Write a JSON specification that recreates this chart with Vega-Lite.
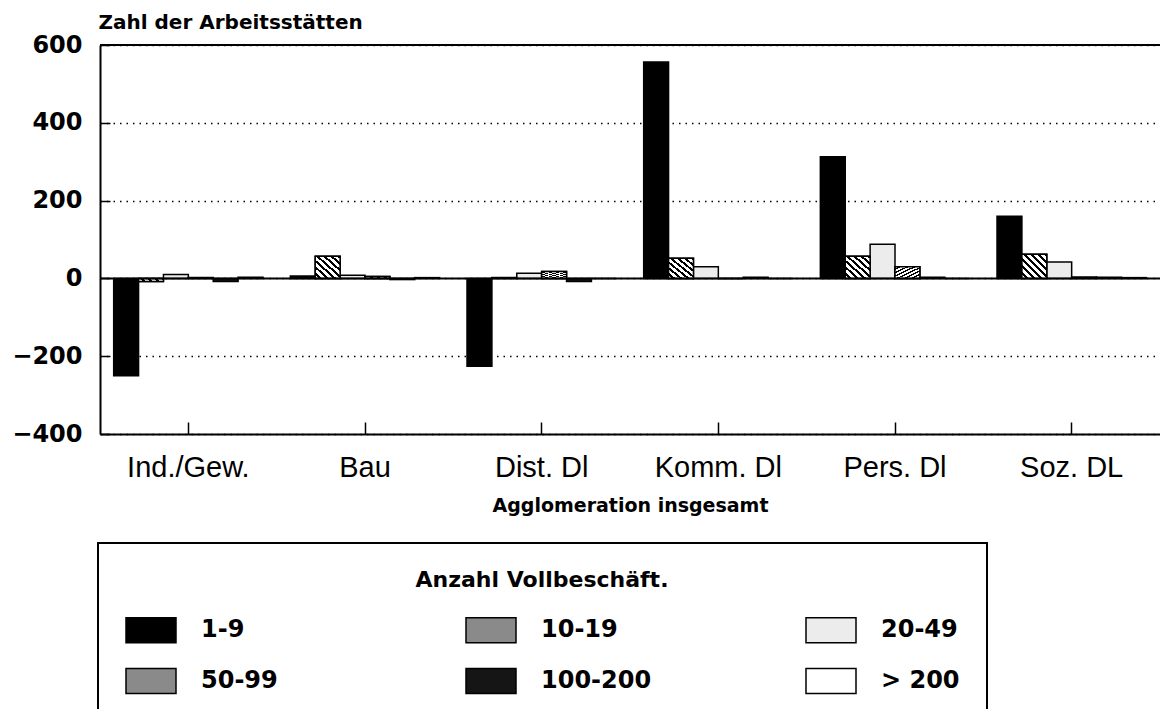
{
  "$schema": "https://vega.github.io/schema/vega-lite/v6.json",
  "width": 1060,
  "height": 389,
  "autosize": "none",
  "padding": {"left": 100, "top": 45, "right": 0, "bottom": 275},
  "background": "white",
  "config": {
    "font": "DejaVu Sans",
    "view": {"stroke": null},
    "legend": {"strokeWidth": 2}
  },
  "data": {
    "values": [
      {"sector": "Ind./Gew.", "size": "1-9", "value": -250},
      {"sector": "Ind./Gew.", "size": "10-19", "value": -8},
      {"sector": "Ind./Gew.", "size": "20-49", "value": 10},
      {"sector": "Ind./Gew.", "size": "50-99", "value": 2},
      {"sector": "Ind./Gew.", "size": "100-200", "value": -8},
      {"sector": "Ind./Gew.", "size": "> 200", "value": 3},
      {"sector": "Bau", "size": "1-9", "value": 6},
      {"sector": "Bau", "size": "10-19", "value": 57},
      {"sector": "Bau", "size": "20-49", "value": 8},
      {"sector": "Bau", "size": "50-99", "value": 5},
      {"sector": "Bau", "size": "100-200", "value": -3},
      {"sector": "Bau", "size": "> 200", "value": 2},
      {"sector": "Dist. Dl", "size": "1-9", "value": -226},
      {"sector": "Dist. Dl", "size": "10-19", "value": 2},
      {"sector": "Dist. Dl", "size": "20-49", "value": 13},
      {"sector": "Dist. Dl", "size": "50-99", "value": 18},
      {"sector": "Dist. Dl", "size": "100-200", "value": -8},
      {"sector": "Dist. Dl", "size": "> 200", "value": 0},
      {"sector": "Komm. Dl", "size": "1-9", "value": 556},
      {"sector": "Komm. Dl", "size": "10-19", "value": 52},
      {"sector": "Komm. Dl", "size": "20-49", "value": 30},
      {"sector": "Komm. Dl", "size": "50-99", "value": 0},
      {"sector": "Komm. Dl", "size": "100-200", "value": 3},
      {"sector": "Komm. Dl", "size": "> 200", "value": 0},
      {"sector": "Pers. Dl", "size": "1-9", "value": 313},
      {"sector": "Pers. Dl", "size": "10-19", "value": 57},
      {"sector": "Pers. Dl", "size": "20-49", "value": 88},
      {"sector": "Pers. Dl", "size": "50-99", "value": 30},
      {"sector": "Pers. Dl", "size": "100-200", "value": 3},
      {"sector": "Pers. Dl", "size": "> 200", "value": 0},
      {"sector": "Soz. DL", "size": "1-9", "value": 160},
      {"sector": "Soz. DL", "size": "10-19", "value": 62},
      {"sector": "Soz. DL", "size": "20-49", "value": 42},
      {"sector": "Soz. DL", "size": "50-99", "value": 3},
      {"sector": "Soz. DL", "size": "100-200", "value": 3},
      {"sector": "Soz. DL", "size": "> 200", "value": 2}
    ]
  },
  "encoding": {
    "x": {
      "field": "sector",
      "type": "nominal",
      "sort": ["Ind./Gew.", "Bau", "Dist. Dl", "Komm. Dl", "Pers. Dl", "Soz. DL"],
      "scale": {"paddingInner": 0, "paddingOuter": 0},
      "axis": {
        "orient": "bottom",
        "labelAngle": 0,
        "labelFont": "Liberation Sans",
        "labelFontSize": 29,
        "labelColor": "black",
        "labelPadding": 31,
        "tickSize": -12,
        "tickColor": "black",
        "tickWidth": 1.5,
        "domainColor": "black",
        "domainWidth": 2,
        "title": "Agglomeration insgesamt",
        "titleFont": "DejaVu Sans",
        "titleFontWeight": "bold",
        "titleFontSize": 19,
        "titleColor": "black",
        "titlePadding": 14
      }
    },
    "xOffset": {
      "field": "size",
      "type": "nominal",
      "scale": {"domain": ["1-9", "10-19", "20-49", "50-99", "100-200", "> 200"], "paddingInner": 0, "paddingOuter": 0.55}
    },
    "y": {
      "field": "value",
      "type": "quantitative",
      "scale": {"domain": [-400, 600], "nice": false, "zero": false},
      "axis": {
        "values": [-400, -200, 0, 200, 400, 600],
        "grid": true,
        "gridDash": [1.5, 5],
        "gridColor": "black",
        "gridWidth": 1.5,
        "gridOpacity": 1,
        "domainColor": "black",
        "domainWidth": 2,
        "tickColor": "black",
        "tickWidth": 1.5,
        "tickSize": -10,
        "labelPadding": 28,
        "labelFont": "DejaVu Sans",
        "labelFontWeight": "bold",
        "labelFontSize": 24,
        "labelColor": "black",
        "title": "Zahl der Arbeitsstätten",
        "titleAngle": 0,
        "titleAlign": "left",
        "titleBaseline": "alphabetic",
        "titleX": -2,
        "titleY": -17,
        "titleFont": "DejaVu Sans",
        "titleFontWeight": "bold",
        "titleFontSize": 20,
        "titleColor": "black"
      }
    }
  },
  "layer": [
    {
      "mark": {"type": "bar", "stroke": "black", "strokeWidth": 1.5},
      "encoding": {
        "fill": {
          "field": "size",
          "type": "nominal",
          "scale": {
            "domain": ["1-9", "50-99", "10-19", "100-200", "20-49", "> 200"],
            "range": ["black", "#8a8a8a", "#8a8a8a", "#151515", "#ececec", "white"]
          },
          "legend": {
            "orient": "none",
            "legendX": -2,
            "legendY": 498,
            "title": "Anzahl Vollbeschäft.",
            "titleFont": "DejaVu Sans",
            "titleFontWeight": "bold",
            "titleFontSize": 22,
            "titleColor": "black",
            "titleAnchor": "middle",
            "titleLimit": 600,
            "titlePadding": 12,
            "columns": 3,
            "gridAlign": "all",
            "columnPadding": 151,
            "rowPadding": 9,
            "symbolType": "M-1,-0.5H1V0.5H-1Z",
            "symbolSize": 2500,
            "symbolStrokeColor": "black",
            "symbolStrokeWidth": 1.5,
            "symbolOpacity": 1,
            "labelFont": "DejaVu Sans",
            "labelFontWeight": "bold",
            "labelFontSize": 24,
            "labelColor": "black",
            "labelOffset": 24,
            "labelLimit": 600,
            "padding": 27,
            "strokeColor": "black",
            "fillColor": "white"
          }
        }
      }
    },
    {
      "transform": [{"filter": "datum.size === '10-19'"}],
      "mark": {
        "type": "bar", "stroke": "black", "strokeWidth": 1.5,
        "fill": {"gradient": "linear", "x1": 0, "y1": 1, "x2": 1, "y2": 0, "stops": [
          {"offset": 0, "color": "white"}, {"offset": 0.081, "color": "white"}, {"offset": 0.081, "color": "black"}, {"offset": 0.1429, "color": "black"},
          {"offset": 0.1429, "color": "white"}, {"offset": 0.2239, "color": "white"}, {"offset": 0.2239, "color": "black"}, {"offset": 0.2857, "color": "black"},
          {"offset": 0.2857, "color": "white"}, {"offset": 0.3667, "color": "white"}, {"offset": 0.3667, "color": "black"}, {"offset": 0.4286, "color": "black"},
          {"offset": 0.4286, "color": "white"}, {"offset": 0.5096, "color": "white"}, {"offset": 0.5096, "color": "black"}, {"offset": 0.5714, "color": "black"},
          {"offset": 0.5714, "color": "white"}, {"offset": 0.6524, "color": "white"}, {"offset": 0.6524, "color": "black"}, {"offset": 0.7143, "color": "black"},
          {"offset": 0.7143, "color": "white"}, {"offset": 0.7953, "color": "white"}, {"offset": 0.7953, "color": "black"}, {"offset": 0.8571, "color": "black"},
          {"offset": 0.8571, "color": "white"}, {"offset": 0.9381, "color": "white"}, {"offset": 0.9381, "color": "black"}, {"offset": 1, "color": "black"}
        ]}
      }
    },
    {
      "transform": [{"filter": "datum.size === '50-99'"}],
      "mark": {
        "type": "bar", "stroke": "black", "strokeWidth": 1.5,
        "fill": {"gradient": "linear", "x1": 0, "y1": 0, "x2": 1, "y2": 1, "stops": [
          {"offset": 0, "color": "white"}, {"offset": 0.081, "color": "white"}, {"offset": 0.081, "color": "black"}, {"offset": 0.1429, "color": "black"},
          {"offset": 0.1429, "color": "white"}, {"offset": 0.2239, "color": "white"}, {"offset": 0.2239, "color": "black"}, {"offset": 0.2857, "color": "black"},
          {"offset": 0.2857, "color": "white"}, {"offset": 0.3667, "color": "white"}, {"offset": 0.3667, "color": "black"}, {"offset": 0.4286, "color": "black"},
          {"offset": 0.4286, "color": "white"}, {"offset": 0.5096, "color": "white"}, {"offset": 0.5096, "color": "black"}, {"offset": 0.5714, "color": "black"},
          {"offset": 0.5714, "color": "white"}, {"offset": 0.6524, "color": "white"}, {"offset": 0.6524, "color": "black"}, {"offset": 0.7143, "color": "black"},
          {"offset": 0.7143, "color": "white"}, {"offset": 0.7953, "color": "white"}, {"offset": 0.7953, "color": "black"}, {"offset": 0.8571, "color": "black"},
          {"offset": 0.8571, "color": "white"}, {"offset": 0.9381, "color": "white"}, {"offset": 0.9381, "color": "black"}, {"offset": 1, "color": "black"}
        ]}
      }
    },
    {
      "data": {"values": [{"v": 0}, {"v": 600}]},
      "mark": {"type": "rule", "color": "black", "strokeWidth": 2},
      "encoding": {
        "x": null,
        "xOffset": null,
        "y": {"field": "v", "type": "quantitative"}
      }
    }
  ]
}
